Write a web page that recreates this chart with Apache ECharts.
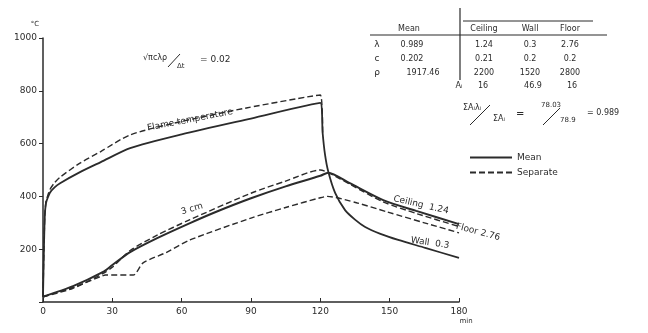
<!DOCTYPE html>
<html>
<head>
<meta charset="utf-8">
<script src="https://cdn.jsdelivr.net/npm/echarts@6/dist/echarts.min.js"></script>
<style>html,body{margin:0;padding:0;background:#fff}#c{width:648px;height:333px}</style>
</head>
<body>
<div id="c"></div>
<script>
// ---- data (time in min, temperature in °C) ----
const xTicks = [0, 30, 60, 90, 120, 150, 180];
const yTicks = [200, 400, 600, 800, 1000];

const flameMean = [[0,20],[0.4,200],[0.8,330],[1.3,375],[2,394],[3,414],[5,434],[7.4,450],[16,492],[25,530],[37.7,583],[60,635],[90,695],[120,754],
  [121,640],[122,560],[123.4,495],[126.4,413],[130.7,348],[135,312],[139.4,284],[146,258],[153.7,235],[165.4,205],[180,167]];
const flameSeparate = [[0,20],[0.4,200],[0.8,330],[1.3,382],[2,402],[3,426],[5,452],[7.4,473],[16,526],[25,570],[37.7,633],[59,682],[88,735],[120,784],[121,640]];

const depth3cmMean = [[0,20],[13,60],[26,114],[30,140],[37.7,189],[49.4,242],[63.6,299],[75,342],[90,393],[105,438],[120,478],
  [123.4,490],[132.5,451],[147.2,386],[161.5,345],[180,295]];
const depth3cmSeparate = [[0,20],[13,52],[26,108],[30,132],[37.7,195],[49.4,253],[63.6,312],[90,412],[105,458],[120,500],
  [124,488],[133,445],[147,380],[162,334],[180,286]];
const depth3cmWall = [[0,20],[13,55],[26,100],[27,102],[39,102],[43.3,148],[53.7,189],[63.6,235],[90,318],[105,358],[120,395],
  [123,400],[136,375],[149,341],[165,300],[180,262]];

const tableHead = ['Mean', 'Ceiling', 'Wall', 'Floor'];
const rowLambda = ['λ', '0.989', '1.24', '0.3', '2.76'];
const rowC = ['c', '0.202', '0.21', '0.2', '0.2'];
const rowRho = ['ρ', '1917.46', '2200', '1520', '2800'];
const rowArea = ['Aᵢ', '', '16', '46.9', '16'];

const chart = echarts.init(document.getElementById('c'), null, {renderer: 'canvas'});
const ink = '#2b2b2b';
const font = 'DejaVu Sans, sans-serif';

function solid(name, data, w) {
  return {name, type: 'line', data, symbol: 'none', smooth: 0.25, clip: true,
    lineStyle: {color: ink, width: w || 1.8, type: 'solid'}, itemStyle: {color: ink}};
}
function dashed(name, data) {
  return {name, type: 'line', data, symbol: 'none', smooth: 0.25, clip: true,
    lineStyle: {color: ink, width: 1.4, type: [6, 3]}, itemStyle: {color: ink}};
}

const g = [];
function txt(x, y, text, size, align, rot) {
  g.push({type: 'text', x, y, rotation: (rot || 0) * Math.PI / 180,
    style: {text, font: (size || 8) + 'px ' + font, fill: ink, textAlign: align || 'left', textVerticalAlign: 'middle'}});
}
function ln(x1, y1, x2, y2, w) {
  g.push({type: 'line', shape: {x1, y1, x2, y2}, style: {stroke: ink, lineWidth: w || 1}});
}

// table
ln(460, 8, 460, 80, 1.2);
ln(463, 21, 593, 21, 1);
ln(370, 35, 607, 35, 1.2);
const colX = [409, 484, 530, 570];
tableHead.forEach((t, i) => txt(colX[i], 29, t, 8, 'center'));
[[rowLambda, 45], [rowC, 59], [rowRho, 73]].forEach(([r, y]) => {
  txt(377, y, r[0], 9, 'center');
  txt(r[1].length > 5 ? 423 : 412, y, r[1], 8, 'center');
  txt(colX[1], y, r[2], 8, 'center');
  txt(colX[2], y, r[3], 8, 'center');
  txt(colX[3], y, r[4], 8, 'center');
});
txt(459, 86, rowArea[0], 8, 'center');
txt(483, 86, rowArea[2], 8, 'center');
txt(533, 86, rowArea[3], 8, 'center');
txt(572, 86, rowArea[4], 8, 'center');

// ratio formula
txt(463, 108, 'ΣAᵢλᵢ', 8, 'left');
ln(470, 125, 490, 105, 1);
txt(493, 119, 'ΣAᵢ', 8, 'left');
txt(516, 114, '=', 10, 'left');
txt(541, 105, '78.03', 7, 'left');
ln(543, 125, 560, 108, 1);
txt(560, 120, '78.9', 7, 'left');
txt(587, 113, '= 0.989', 8, 'left');

// parameter formula
txt(143, 58, '√πcλρ', 8, 'left');
ln(168, 67, 180, 54, 1);
txt(177, 66, 'Δt', 7, 'left');
txt(200, 60, '= 0.02', 9, 'left');

// curve labels
txt(190, 120, 'Flame temperature', 9, 'center', 11);
txt(192, 209, '3 cm', 9, 'center', 17);
txt(421, 205, 'Ceiling  1.24', 9, 'center', -13);
txt(478, 232, 'Floor 2.76', 9, 'center', -15);
txt(430, 243, 'Wall  0.3', 9, 'center', -8);

// units
txt(35, 24, '°C', 7, 'center');
txt(466, 321, 'min', 7, 'center');

chart.setOption({
  animation: false,
  backgroundColor: '#ffffff',
  grid: {left: 43, right: 189, top: 38, bottom: 31},
  legend: {
    data: ['Mean', 'Separate'], orient: 'vertical', left: 464, top: 148,
    itemWidth: 42, itemHeight: 10, itemGap: 6,
    itemStyle: {opacity: 0},
    textStyle: {fontFamily: font, fontSize: 9, color: ink}
  },
  xAxis: {
    type: 'value', min: 0, max: 180, interval: 30,
    axisLine: {lineStyle: {color: ink, width: 1.5}},
    axisTick: {inside: true, length: 4, lineStyle: {color: ink}},
    splitLine: {show: false},
    axisLabel: {color: ink, fontFamily: font, fontSize: 9, margin: 5,
      formatter: v => xTicks.includes(v) ? String(v) : ''}
  },
  yAxis: {
    type: 'value', min: 0, max: 1000, interval: 200,
    axisLine: {show: true, lineStyle: {color: ink, width: 1.5}},
    axisTick: {show: true, length: 4, lineStyle: {color: ink}},
    splitLine: {show: false},
    axisLabel: {color: ink, fontFamily: font, fontSize: 9, margin: 6,
      formatter: v => yTicks.includes(v) ? String(v) : ''}
  },
  series: [
    solid('Mean', flameMean, 1.8),
    dashed('Separate', flameSeparate),
    solid('Mean', depth3cmMean, 2),
    dashed('Separate', depth3cmSeparate),
    dashed('Separate', depth3cmWall)
  ],
  graphic: g
});
</script>
</body>
</html>
